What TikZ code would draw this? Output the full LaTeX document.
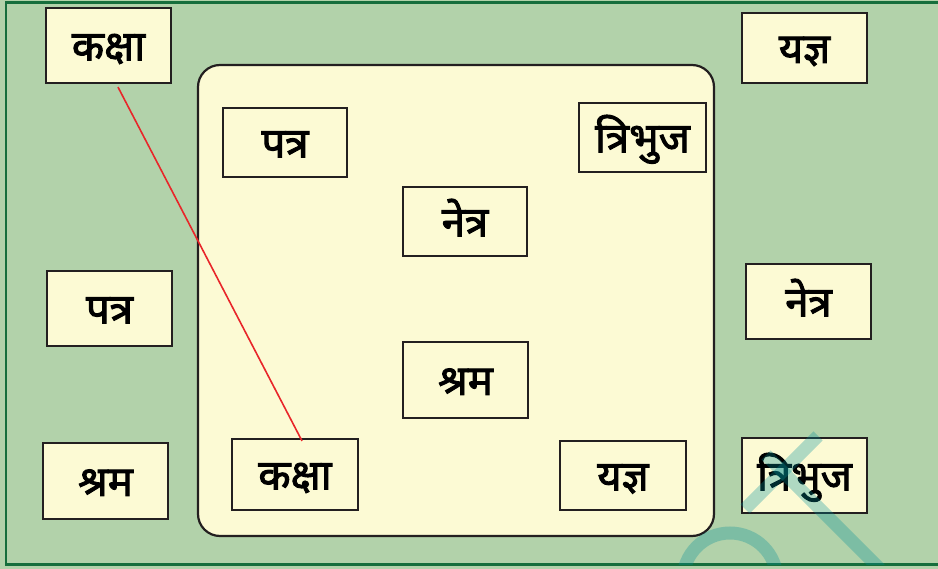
\documentclass[tikz,border=0pt]{standalone}
\usepackage{fontspec}
\newfontfamily\deva[Script=Devanagari, FakeBold=2.2]{Noto Sans}
\usetikzlibrary{calc}
\definecolor{bggreen}{RGB}{178,210,170}
\definecolor{framegreen}{RGB}{22,110,60}
\definecolor{cream}{RGB}{252,250,212}
\definecolor{boxline}{RGB}{35,31,32}
\definecolor{redline}{RGB}{232,38,42}
\definecolor{wmark}{RGB}{0,143,153}
\tikzset{
  wordbox/.style={draw=boxline, line width=2.2pt, fill=cream, inner sep=0pt,
    text height=32pt, text depth=2pt,
    minimum width=125pt, minimum height=72pt, font=\deva\fontsize{42}{42}\selectfont},
  panel/.style={draw=boxline, line width=2.2pt, fill=cream, rounded corners=22pt},
  matchline/.style={draw=redline, line width=1.6pt},
  wmarkband/.style={draw=wmark, opacity=0.3, line width=13pt}
}
\begin{document}
\begin{tikzpicture}[x=1pt,y=-1pt]
\useasboundingbox (0,0) rectangle (938,569);
\fill[bggreen] (0,0) rectangle (938,569);
\draw[framegreen, line width=2.8pt] (6,2.5) rectangle (945,564.5);
\draw[panel] (198,65) rectangle (714,536);
% outer boxes
\node[wordbox, minimum width=125pt, minimum height=75pt] (TLkaksha) at (108.5,45.5) {कक्षा};
\node[wordbox, minimum width=125pt, minimum height=70pt] (TRyajna) at (804.5,48) {यज्ञ};
\node[wordbox, minimum width=125pt, minimum height=75pt] (Lpatra) at (109.5,308.5) {पत्र};
\node[wordbox, minimum width=125pt, minimum height=76pt] (Lshram) at (105.5,481) {श्रम};
\node[wordbox, minimum width=125pt, minimum height=75pt] (Rnetra) at (808.5,301.5) {नेत्र};
\node[wordbox, minimum width=125pt, minimum height=75pt] (Rtribhuj) at (804.5,475.5) {त्रिभुज};
% inner boxes
\node[wordbox, minimum width=124pt, minimum height=69pt] (patra) at (285,142.5) {पत्र};
\node[wordbox, minimum width=127pt, minimum height=69pt] (tribhuj) at (642.5,137.5) {त्रिभुज};
\node[wordbox, minimum width=124pt, minimum height=69pt] (netra) at (465,221.5) {नेत्र};
\node[wordbox, minimum width=125pt, minimum height=76pt] (shram) at (465.5,380) {श्रम};
\node[wordbox, minimum width=126pt, minimum height=71pt] (kaksha) at (295,474.5) {कक्षा};
\node[wordbox, minimum width=126pt, minimum height=69pt] (yajna) at (623,475.5) {यज्ञ};
% connector
\draw[matchline] ($(TLkaksha.south)+(9.5,3)$) -- ($(kaksha.north)+(7,3)$);
% watermark fragment
\begin{scope}
\clip (0,0) rectangle (938,564);
\draw[wmarkband] (818,436) -- (745,509);
\draw[wmarkband] (766,455) -- (880,569);
\draw[wmarkband] (730,580) circle[radius=47];
\end{scope}
\end{tikzpicture}
\end{document}
